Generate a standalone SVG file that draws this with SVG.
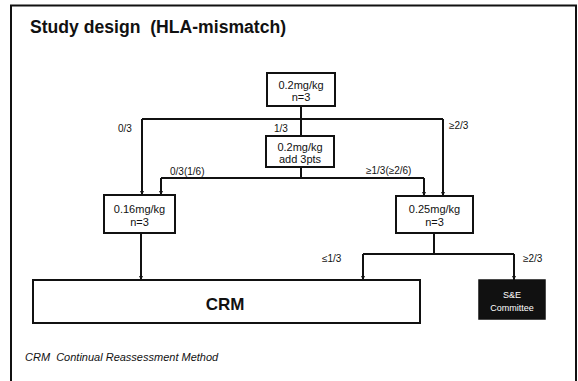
<svg xmlns="http://www.w3.org/2000/svg" width="578" height="381" viewBox="0 0 578 381">
  <style>
    text { white-space: pre; }
    .frame { fill: none; stroke: #111; stroke-width: 2; }
    .box { fill: #fff; stroke: #111; stroke-width: 2; }
    .dark { fill: #111; stroke: #111; stroke-width: 1.5; }
    .wire { fill: none; stroke: #111; stroke-width: 2; }
    .node { font-family: "Liberation Sans", Arial, sans-serif; font-size: 11px; fill: #111; text-anchor: middle; }
    .lbl { font-family: "Liberation Sans", Arial, sans-serif; font-size: 10px; fill: #111; }
    .title { font-family: "Liberation Sans", Arial, sans-serif; font-size: 17.6px; font-weight: bold; fill: #111; }
    .big { font-family: "Liberation Sans", Arial, sans-serif; font-size: 17px; font-weight: bold; fill: #111; text-anchor: middle; }
    .light { font-family: "Liberation Sans", Arial, sans-serif; font-size: 9px; fill: #fff; text-anchor: middle; }
    .note { font-family: "Liberation Sans", Arial, sans-serif; font-size: 11px; font-style: italic; fill: #111; }
  </style>
  <defs>
    <marker id="tip" viewBox="0 0 6 6" refX="6" refY="3" markerWidth="2" markerHeight="2" orient="auto">
      <path d="M0,0 L6,3 L0,6 z" fill="#111"/>
    </marker>
  </defs>

  <rect width="578" height="381" fill="#fff"/>
  <!-- slide frame (open at the bottom) -->
  <path class="frame" d="M11,381 V5.5 H576 V381"/>

  <text class="title" x="30" y="33">Study design  (HLA-mismatch)</text>

  <!-- connectors -->
  <g id="connectors">
    <path class="wire" d="M301,106 V136"/>
    <path class="wire" d="M142,119 H443"/>
    <path class="wire" d="M142,119 V195" marker-end="url(#tip)"/>
    <path class="wire" d="M443,119 V196" marker-end="url(#tip)"/>
    <path class="wire" d="M301,167 V178"/>
    <path class="wire" d="M161,178 H424"/>
    <path class="wire" d="M161,178 V195" marker-end="url(#tip)"/>
    <path class="wire" d="M424,178 V196" marker-end="url(#tip)"/>
    <path class="wire" d="M141,233 V280" marker-end="url(#tip)"/>
    <path class="wire" d="M434,233 V254"/>
    <path class="wire" d="M363,254 H514"/>
    <path class="wire" d="M363,254 V280" marker-end="url(#tip)"/>
    <path class="wire" d="M514,254 V280" marker-end="url(#tip)"/>

    <text class="lbl" x="118" y="132">0/3</text>
    <text class="lbl" x="274" y="132">1/3</text>
    <text class="lbl" x="449" y="129">≥2/3</text>
    <text class="lbl" x="170" y="175">0/3(1/6)</text>
    <text class="lbl" x="366" y="174">≥1/3(≥2/6)</text>
    <text class="lbl" x="322" y="262">≤1/3</text>
    <text class="lbl" x="523" y="262">≥2/3</text>
  </g>

  <!-- dose levels -->
  <g id="start-dose">
    <rect class="box" x="267" y="73" width="68" height="33"/>
    <text class="node" x="301" y="89">0.2mg/kg</text>
    <text class="node" x="301" y="101">n=3</text>
  </g>

  <g id="expand-dose">
    <rect class="box" x="266" y="136" width="68" height="31"/>
    <text class="node" x="300" y="151">0.2mg/kg</text>
    <text class="node" x="300" y="163">add 3pts</text>
  </g>

  <g id="low-dose">
    <rect class="box" x="104" y="195" width="71" height="38"/>
    <text class="node" x="139.5" y="213">0.16mg/kg</text>
    <text class="node" x="139.5" y="226">n=3</text>
  </g>

  <g id="high-dose">
    <rect class="box" x="396" y="196" width="77" height="37"/>
    <text class="node" x="434.5" y="213">0.25mg/kg</text>
    <text class="node" x="434.5" y="226">n=3</text>
  </g>

  <g id="crm">
    <rect class="box" x="33" y="280" width="387" height="43"/>
    <text class="big" x="225" y="310">CRM</text>
  </g>

  <g id="committee">
    <rect class="dark" x="479" y="280" width="66" height="39"/>
    <text class="light" x="512" y="298">S&amp;E</text>
    <text class="light" x="512" y="311">Committee</text>
  </g>

  <text class="note" x="25" y="361">CRM  Continual Reassessment Method</text>
</svg>
